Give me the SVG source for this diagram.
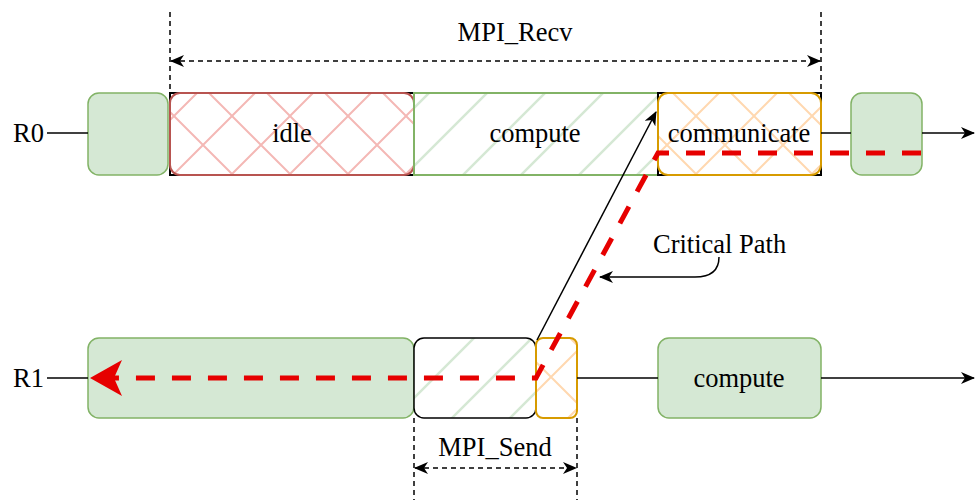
<svg xmlns="http://www.w3.org/2000/svg" width="976" height="500" viewBox="0 0 976 500">
<style>
text{font-family:"Liberation Serif","Times New Roman",serif;font-size:26.5px;fill:#000;}
.line{stroke:#000;stroke-width:1.5;fill:none;}
.dim{stroke:#000;stroke-width:1.5;fill:none;stroke-dasharray:5 4;}
.green{fill:#d5e8d4;stroke:#82b366;stroke-width:1.5;}
.crit{stroke:#e60000;stroke-width:5;fill:none;stroke-dasharray:19 17;}
.under{fill:none;stroke:#000;stroke-width:2;}
</style>
<defs>
<marker id="arr" viewBox="0 0 14 12" refX="13" refY="6" markerWidth="14" markerHeight="12" markerUnits="userSpaceOnUse" orient="auto-start-reverse">
<path d="M0,0 L14,6 L0,12 L4,6 Z" fill="#000"/>
</marker>
<marker id="redarr" viewBox="0 0 32 36" refX="31" refY="18" markerWidth="32" markerHeight="36" markerUnits="userSpaceOnUse" orient="auto">
<path d="M0,0 L32,18 L0,36 L8,18 Z" fill="#e60000"/>
</marker>
<pattern id="xred" patternUnits="userSpaceOnUse" width="58" height="58">
<path d="M0,0 L58,58 M58,0 L0,58" stroke="#f4b8b5" stroke-width="2"/>
</pattern>
<pattern id="xorange" patternUnits="userSpaceOnUse" width="58" height="58">
<path d="M0,0 L58,58 M58,0 L0,58" stroke="#ffd8b0" stroke-width="2"/>
</pattern>
<pattern id="dgreen" patternUnits="userSpaceOnUse" width="58" height="58">
<path d="M0,58 L58,0 M-10,10 L10,-10 M48,68 L68,48" stroke="#d5e8d4" stroke-width="2.5"/>
</pattern>
</defs>

<g id="labels-rows">
<text x="13" y="142">R0</text>
<text x="13" y="387">R1</text>
</g>

<g id="r0-start"><rect class="green" x="88" y="93" width="80" height="82" rx="11"/></g>
<g id="r0-idle">
<rect class="under" x="170" y="93" width="244" height="82"/>
<rect x="170" y="93" width="244" height="82" rx="10" fill="#fff" stroke="none"/>
<rect x="170" y="93" width="244" height="82" rx="10" fill="url(#xred)" stroke="#b85450" stroke-width="2"/>
<text x="292" y="142" text-anchor="middle">idle</text>
</g>
<g id="r0-compute">
<rect class="under" x="414" y="93" width="244" height="82"/>
<rect x="414" y="93" width="244" height="82" fill="#fff" stroke="none"/>
<rect x="414" y="93" width="244" height="82" fill="url(#dgreen)" stroke="#82b366" stroke-width="2"/>
<text x="535" y="142" text-anchor="middle">compute</text>
</g>
<g id="r0-communicate">
<rect class="under" x="658" y="93" width="163" height="82"/>
<rect x="658" y="93" width="163" height="82" rx="10" fill="#fff" stroke="none"/>
<rect x="658" y="93" width="163" height="82" rx="10" fill="url(#xorange)" stroke="#d79b00" stroke-width="2"/>
<text x="739" y="142" text-anchor="middle">communicate</text>
</g>
<g id="r0-end"><rect class="green" x="851" y="93" width="71" height="82" rx="11"/></g>

<g id="r1-start"><rect class="green" x="88" y="338" width="326" height="80" rx="11"/></g>
<g id="r1-compute">
<rect x="414" y="338" width="122" height="80" rx="10" fill="#fff" stroke="none"/>
<rect x="414" y="338" width="122" height="80" rx="10" fill="url(#dgreen)" stroke="#000" stroke-width="1.5"/>
</g>
<g id="r1-send">
<rect x="536" y="338" width="41" height="80" rx="7" fill="#fff" stroke="none"/>
<rect x="536" y="338" width="41" height="80" rx="7" fill="url(#xorange)" stroke="#d79b00" stroke-width="2"/>
</g>
<g id="r1-compute2">
<rect class="green" x="658" y="338" width="163" height="80" rx="11"/>
<text x="739" y="387" text-anchor="middle">compute</text>
</g>

<g id="connectors">
<line class="line" x1="47" y1="133" x2="88" y2="133"/>
<line class="line" x1="821" y1="133" x2="851" y2="133"/>
<line class="line" x1="922" y1="133" x2="974" y2="133" marker-end="url(#arr)"/>
<line class="line" x1="47" y1="378" x2="88" y2="378"/>
<line class="line" x1="577" y1="378" x2="658" y2="378"/>
<line class="line" x1="821" y1="378" x2="974" y2="378" marker-end="url(#arr)"/>
<line class="line" x1="537" y1="340" x2="656" y2="112" marker-end="url(#arr)"/>
<path class="crit" d="M921,153 L658,153 L536,378 L91,378" marker-end="url(#redarr)"/>
<path class="line" d="M719,257 Q719,277 695,277 L600,277" marker-end="url(#arr)"/>
</g>

<g id="critical-label">
<text x="653" y="253">Critical Path</text>
</g>

<g id="mpi-recv">
<line class="dim" x1="170" y1="12" x2="170" y2="93"/>
<line class="dim" x1="821" y1="12" x2="821" y2="93"/>
<line class="dim" x1="171" y1="61" x2="820" y2="61" marker-start="url(#arr)" marker-end="url(#arr)"/>
<text x="515" y="41" text-anchor="middle">MPI_Recv</text>
</g>

<g id="mpi-send">
<line class="dim" x1="414" y1="418" x2="414" y2="500"/>
<line class="dim" x1="577" y1="418" x2="577" y2="500"/>
<line class="dim" x1="415" y1="468" x2="576" y2="468" marker-start="url(#arr)" marker-end="url(#arr)"/>
<text x="495" y="456" text-anchor="middle">MPI_Send</text>
</g>
</svg>
